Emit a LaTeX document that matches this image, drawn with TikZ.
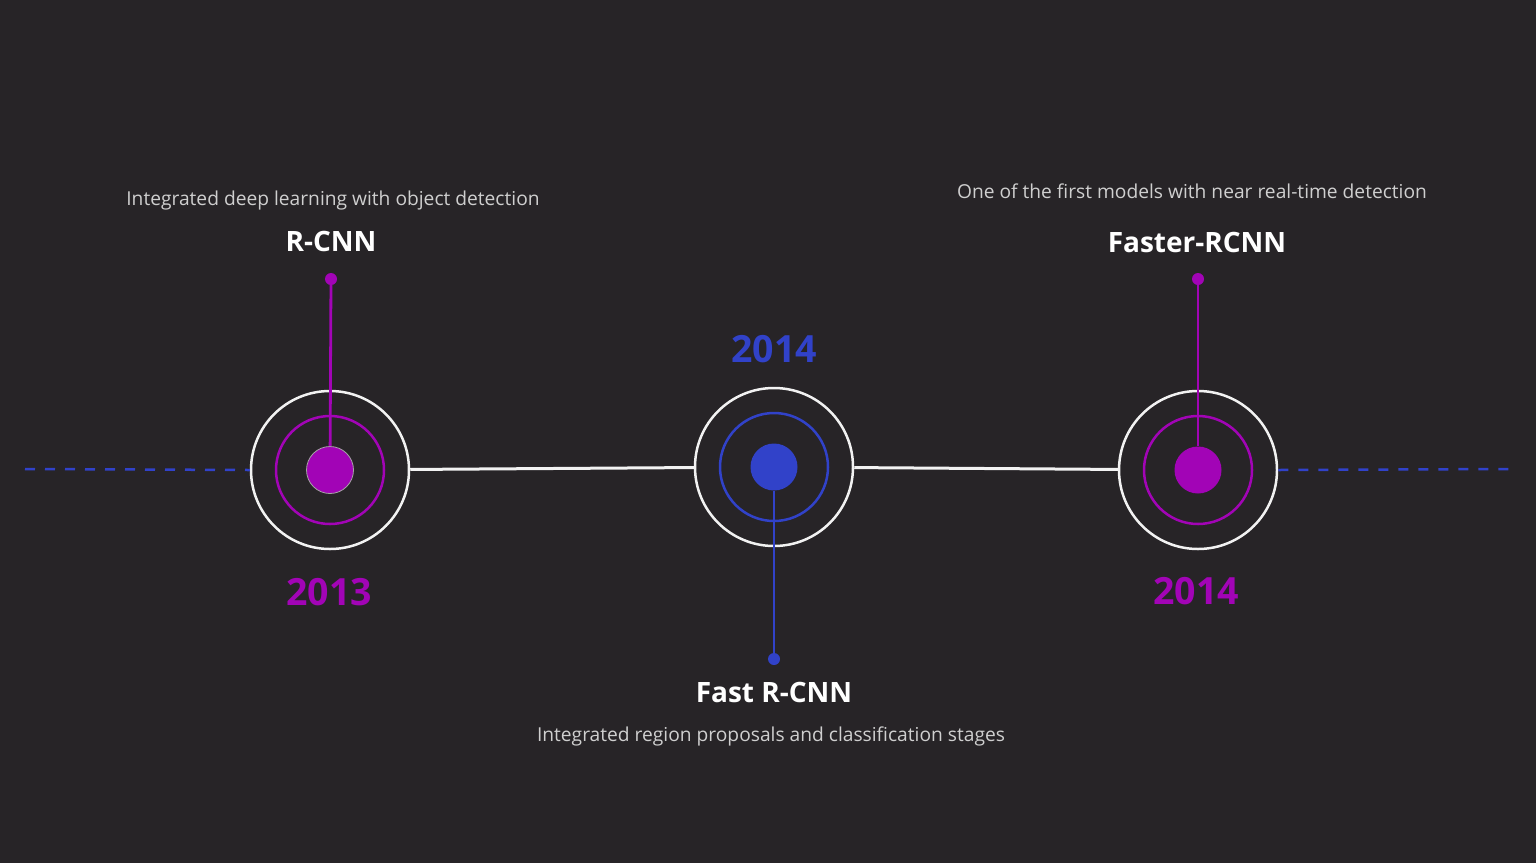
\documentclass[tikz,border=0pt]{standalone}
\usepackage{fontspec}
\setmainfont{Open Sans}
\definecolor{bgc}{HTML}{272427}
\definecolor{purp}{HTML}{A204B6}
\definecolor{blu}{HTML}{3142C9}
\definecolor{desc}{HTML}{CFCFCF}
\definecolor{ringw}{HTML}{F2F2F2}
\tikzset{
  outerring/.style={circle, draw=ringw, line width=2.5pt, minimum size=158pt, inner sep=0pt},
  innerring/.style={circle, draw=#1, line width=2.5pt, minimum size=108pt, inner sep=0pt},
  core/.style={circle, fill=#1, minimum size=47pt, inner sep=0pt},
  pindot/.style={circle, fill=#1, minimum size=12pt, inner sep=0pt},
  stem/.style={draw=#1, line width=2.8pt},
  conn/.style={draw=ringw, line width=3pt},
  dashline/.style={draw=blu, line width=2.5pt, dash pattern=on 10pt off 10pt},
  desctext/.style={text=desc, font=\fontsize{19.2}{22}\selectfont, anchor=base, inner sep=0pt},
  titletext/.style={text=white, font=\fontsize{28}{32}\selectfont\bfseries, anchor=base, inner sep=0pt},
  yeartext/.style={text=#1, font=\fontsize{37.5}{42}\selectfont\bfseries, anchor=base, inner sep=0pt}
}
\begin{document}
\begin{tikzpicture}[x=1pt,y=-1pt]
\fill[bgc] (0,0) rectangle (1536,863);
\useasboundingbox (0,0) rectangle (1536,863);

% outer rings
\node[outerring] (c1) at (330,470) {};
\node[outerring] (c2) at (774,467) {};
\node[outerring] (c3) at (1198,470) {};
% inner rings
\node[innerring=purp] (r1) at (330,470) {};
\node[innerring=blu] (r2) at (774,467) {};
\node[innerring=purp] (r3) at (1198,470) {};
% pins
\node[pindot=purp] (p1) at (331,279) {};
\node[pindot=blu] (p2) at (774,659) {};
\node[pindot=purp] (p3) at (1198,279) {};
% cores
\node[core=purp, draw=gray!70, line width=0.8pt] (d1) at (330,470) {};
\node[core=blu] (d2) at (774,467) {};
\node[core=purp] (d3) at (1198,470) {};
% stems
\draw[stem=purp] (p1) -- (d1);
\draw[stem=blu] (d2) -- (p2);
\draw[stem=purp] (p3) -- (d3);

% connectors
\draw[conn] (c1) -- (c2);
\draw[conn] (c2) -- (c3);
\coordinate (lend) at (25,469);
\coordinate (rend) at (1510,469);
\draw[dashline] (lend) -- (c1.west);
\draw[dashline] (c3.east) -- (rend);

% texts
\node[desctext] (t1d) at (333,205) {Integrated deep learning with object detection};
\node[titletext] (t1) at (331,251.5) {R-CNN};
\node[yeartext=purp] (y1) at (329,605) {2013};

\node[yeartext=blu] (y2) at (774,362) {2014};
\node[titletext] (t2) at (774,702) {Fast R-CNN};
\node[desctext] (t2d) at (771,741) {Integrated region proposals and classification stages};

\node[desctext] (t3d) at (1192,198) {One of the first models with near real-time detection};
\node[titletext] (t3) at (1197,252) {Faster-RCNN};
\node[yeartext=purp] (y3) at (1196,604) {2014};
\end{tikzpicture}
\end{document}
